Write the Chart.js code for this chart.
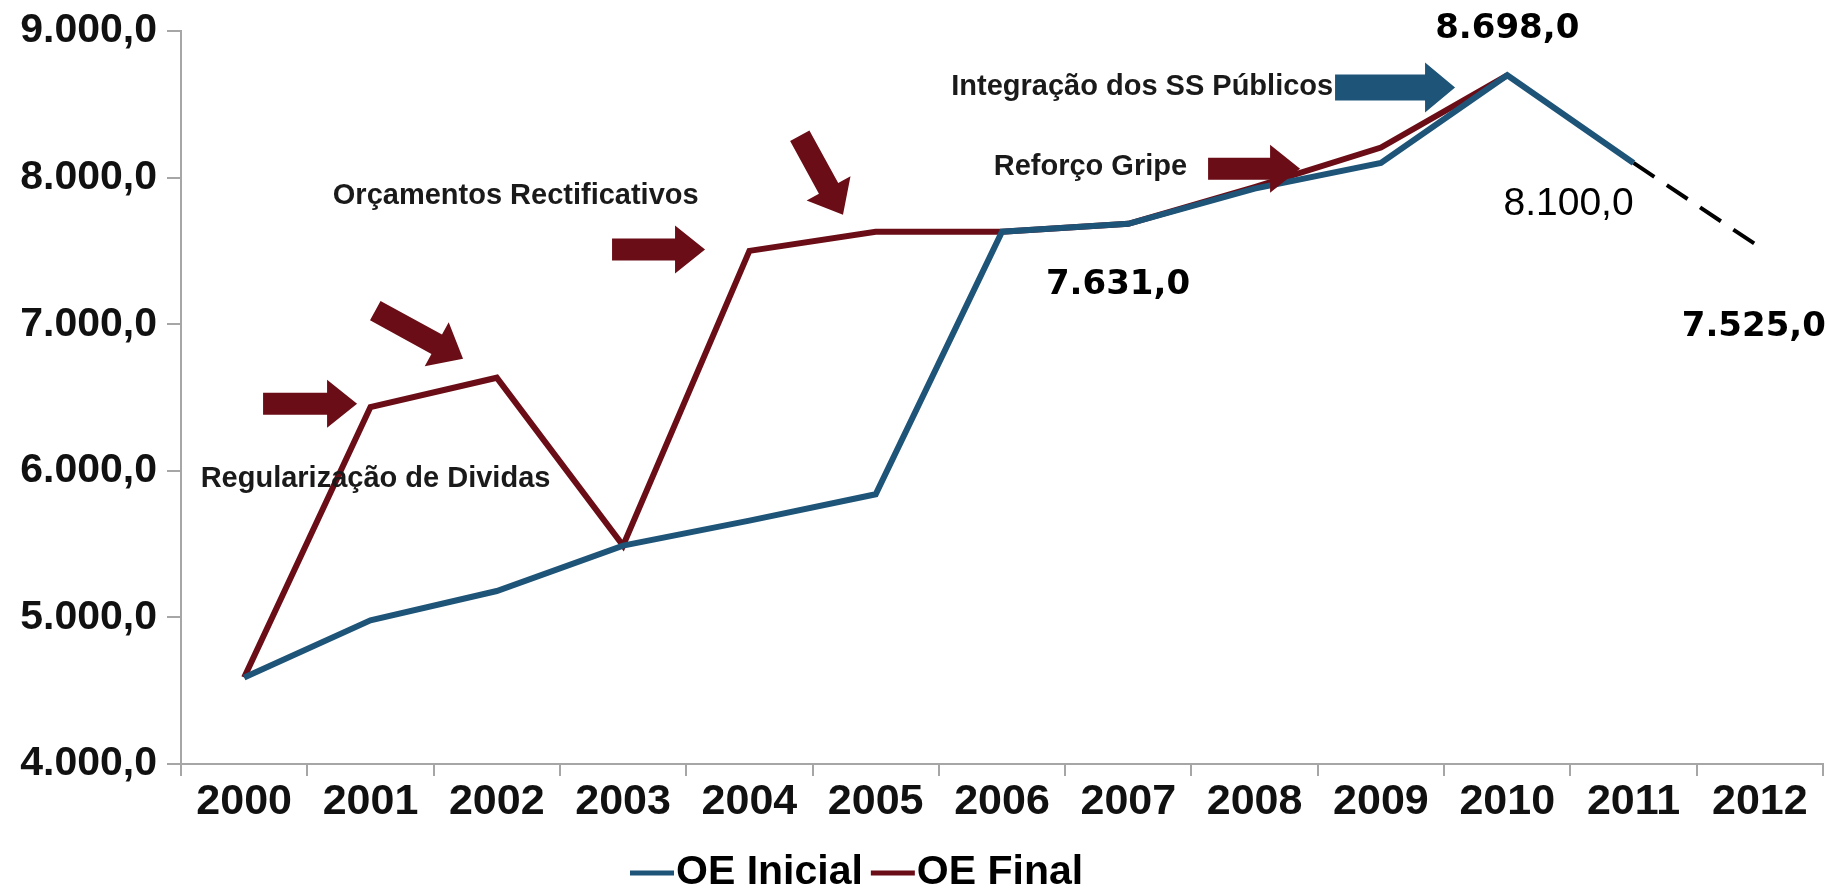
<!DOCTYPE html>
<html lang="pt">
<head>
<meta charset="utf-8">
<title>OE Inicial / OE Final</title>
<script src="https://cdn.jsdelivr.net/npm/chart.js@4.4.1/dist/chart.umd.min.js"></script>
<style>
    html, body { margin: 0; padding: 0; background: #fff; }
    #wrap { width: 1829px; height: 893px; }
</style>
</head>
<body>
<div id="wrap"><canvas id="myChart" width="1829" height="893"></canvas></div>
<script>
// Orçamento do SNS (milhões de euros)
var anos = ['2000', '2001', '2002', '2003', '2004', '2005', '2006', '2007', '2008', '2009', '2010', '2011', '2012'];
var oeInicial = [4590, 4980, 5180, 5490, 5660, 5840, 7631, 7685, 7925, 8100, 8698, 8100, null];
var oeFinal = [4590, 6435, 6635, 5490, 7500, 7631, 7631, 7685, 7935, 8205, 8698, null, null];
var previsao = [null, null, null, null, null, null, null, null, null, null, null, 8100, 7525];
var yTicks = [4000, 5000, 6000, 7000, 8000, 9000];

var azul = '#1d5478';
var vermelho = '#6b0d16';
var cinza = '#a6a6a6';

// notas de texto (posição em índice de categoria / valor)
var notas = [
    { texto: 'Regularização de Dividas', x: 1.04, y: 5945 },
    { texto: 'Orçamentos Rectificativos', x: 2.15, y: 7877 },
    { texto: 'Reforço Gripe', x: 6.70, y: 8075 },
    { texto: 'Integração dos SS Públicos', x: 7.11, y: 8621 }
];

// setas: ponta em (x, y), ângulo em radianos
var setas = [
    { x: 0.894, y: 6457, ang: 0, len: 94, corpo: 22, cabeca: 48, cor: vermelho },
    { x: 1.733, y: 6765, ang: 0.5, len: 100, corpo: 22, cabeca: 50, cor: vermelho },
    { x: 3.649, y: 7509, ang: 0, len: 93, corpo: 22, cabeca: 48, cor: vermelho },
    { x: 4.741, y: 7747, ang: 1.07, len: 90, corpo: 22, cabeca: 50, cor: vermelho },
    { x: 8.360, y: 8061, ang: 0, len: 92, corpo: 22, cabeca: 48, cor: vermelho },
    { x: 9.587, y: 8614, ang: 0, len: 120, corpo: 26, cabeca: 50, cor: azul }
];

// rótulos de valores: série, índice, deslocamento em px
var rotulos = [
    { serie: 1, i: 10, dx: 0, dy: -46, fonte: 'bold 34px "DejaVu Sans"' },
    { serie: 0, i: 6, dx: 116, dy: 53, fonte: 'bold 34px "DejaVu Sans"' },
    { serie: 0, i: 11, dx: -65, dy: 41, fonte: '39px "Liberation Sans"' },
    { serie: 2, i: 12, dx: -6, dy: 80, fonte: 'bold 34px "DejaVu Sans"' }
];

function fmt(v) {
    var p = Number(v).toFixed(1).split('.');
    return p[0].replace(/\B(?=(\d{3})+(?!\d))/g, '.') + ',' + p[1];
}

function seta(ctx, x, y, s) {
    var ponta = 30;
    ctx.save();
    ctx.translate(x, y);
    ctx.rotate(s.ang);
    ctx.beginPath();
    ctx.moveTo(0, 0);
    ctx.lineTo(-ponta, -s.cabeca / 2);
    ctx.lineTo(-ponta, -s.corpo / 2);
    ctx.lineTo(-s.len, -s.corpo / 2);
    ctx.lineTo(-s.len, s.corpo / 2);
    ctx.lineTo(-ponta, s.corpo / 2);
    ctx.lineTo(-ponta, s.cabeca / 2);
    ctx.closePath();
    ctx.fillStyle = s.cor;
    ctx.fill();
    ctx.restore();
}

var anotacoes = {
    id: 'anotacoes',
    afterDatasetsDraw: function (chart) {
        var ctx = chart.ctx;
        var sx = chart.scales.x, sy = chart.scales.y;

        ctx.save();
        ctx.fillStyle = '#1a1a1a';
        ctx.font = 'bold 29px "Liberation Sans", Arial, sans-serif';
        ctx.textAlign = 'center';
        ctx.textBaseline = 'middle';
        notas.forEach(function (n) {
            ctx.fillText(n.texto, sx.getPixelForValue(n.x), sy.getPixelForValue(n.y));
        });

        setas.forEach(function (s) {
            seta(ctx, sx.getPixelForValue(s.x), sy.getPixelForValue(s.y), s);
        });

        ctx.fillStyle = '#000';
        rotulos.forEach(function (r) {
            var pt = chart.getDatasetMeta(r.serie).data[r.i];
            var v = chart.data.datasets[r.serie].data[r.i];
            ctx.font = r.fonte;
            ctx.fillText(fmt(v), pt.x + r.dx, pt.y + r.dy);
        });
        ctx.restore();
    },
    afterDraw: function (chart) {
        // legenda
        var ctx = chart.ctx;
        var itens = chart.data.datasets.filter(function (d) { return d.label; });
        ctx.save();
        ctx.font = 'bold 41px "Liberation Sans", Arial, sans-serif';
        ctx.textBaseline = 'middle';
        ctx.textAlign = 'left';
        var y = 873, x = 630;
        itens.forEach(function (d) {
            ctx.strokeStyle = d.borderColor;
            ctx.lineWidth = 5;
            ctx.beginPath();
            ctx.moveTo(x, y);
            ctx.lineTo(x + 44, y);
            ctx.stroke();
            x += 46;
            ctx.fillStyle = '#000';
            ctx.fillText(d.label, x, y);
            x += ctx.measureText(d.label).width + 8;
        });
        ctx.restore();
    }
};

var ctx = document.getElementById('myChart').getContext('2d');
new Chart(ctx, {
    type: 'line',
    data: {
        labels: anos,
        datasets: [{
            label: 'OE Inicial',
            data: oeInicial,
            borderColor: azul,
            borderWidth: 6,
            pointRadius: 0,
            tension: 0
        }, {
            label: 'OE Final',
            data: oeFinal,
            borderColor: vermelho,
            borderWidth: 6,
            pointRadius: 0,
            tension: 0
        }, {
            label: '',
            data: previsao,
            borderColor: '#000',
            borderWidth: 4,
            borderDash: [25, 15],
            pointRadius: 0,
            tension: 0
        }]
    },
    options: {
        responsive: false,
        animation: false,
        devicePixelRatio: 1,
        layout: { padding: { top: 31, right: 6, bottom: 0, left: 0 } },
        plugins: {
            legend: { display: false },
            tooltip: { enabled: false }
        },
        scales: {
            x: {
                offset: true,
                grid: { offset: true, drawOnChartArea: false, tickLength: 12, color: cinza, lineWidth: 2 },
                border: { color: cinza, width: 2 },
                ticks: {
                    padding: 0,
                    maxRotation: 0,
                    autoSkip: false,
                    color: '#111',
                    font: { family: '"Liberation Sans", Arial, sans-serif', size: 43, weight: 'bold' }
                },
                afterFit: function (s) {
                    s.height = 129;
                    s.paddingLeft = 0;
                    s.paddingRight = 0;
                }
            },
            y: {
                min: 4000,
                max: 9000,
                afterBuildTicks: function (s) {
                    s.ticks = yTicks.map(function (v) { return { value: v }; });
                },
                grid: { drawOnChartArea: false, tickLength: 14, color: cinza, lineWidth: 2 },
                border: { color: cinza, width: 2 },
                ticks: {
                    padding: 10,
                    color: '#111',
                    font: { family: '"Liberation Sans", Arial, sans-serif', size: 41, weight: 'bold' },
                    callback: function (v) { return fmt(v); }
                },
                afterFit: function (s) {
                    s.width = 181;
                    s.paddingTop = 0;
                    s.paddingBottom = 0;
                }
            }
        }
    },
    plugins: [anotacoes]
});
</script>
</body>
</html>
